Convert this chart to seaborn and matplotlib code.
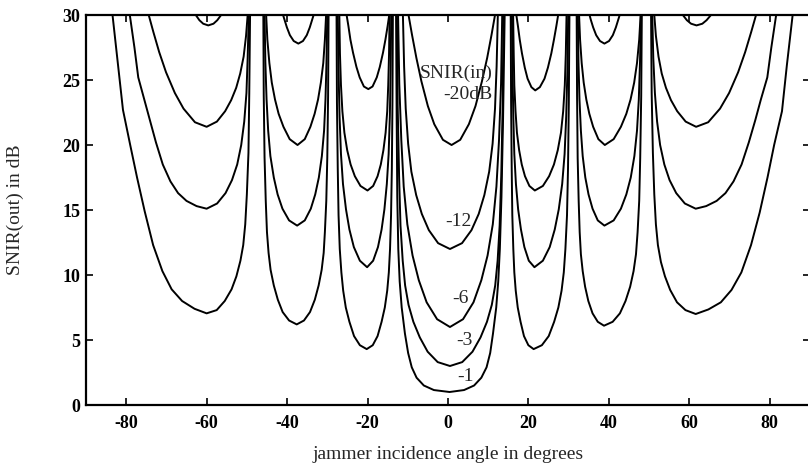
import numpy as np
import pandas as pd
from matplotlib import pyplot as plt
import seaborn as sns

# values (angle in degrees, SNIR(out) in dB)
# one row per lobe; the 60 / 45 points sit inside the clipped spikes above 30 dB
ang_m1 = [-90, -83.4, -82.0, -80.8, -79.0, -77.3, -75.4, -73.3, -71.0, -68.7, -66.1, -63.0, -60.0,
          -57.5, -55.5, -53.8, -52.6, -51.6, -50.9, -50.4, -50.0, -49.6, -49.4, -49.2, -47.2,
          -45.9, -45.8, -45.6, -45.3, -45.0, -44.6, -44.1, -43.3, -42.3, -41.1, -39.5, -37.6,
          -35.8, -34.3, -33.1, -32.15, -31.4, -30.9, -30.6, -30.25, -30.0, -29.8, -29.7, -28.7,
          -27.7, -27.6, -27.4, -27.2, -26.9, -26.5, -26.05, -25.4, -24.5, -23.35, -21.9, -20.2,
          -18.7, -17.5, -16.5, -15.7, -15.1, -14.7, -14.4, -14.15, -13.95, -13.8, -13.7, -13.1,
          -12.9, -12.75, -12.6, -12.35, -12.0, -11.5, -10.7, -9.9, -9.0, -7.8, -6.0, -3.5, 0.4,
          4.0, 6.5, 8.3, 9.6, 10.5, 11.2, 12.0, 12.5, 12.9, 13.3, 13.7, 14.1, 14.9,
          15.6, 15.7, 15.85, 16.0, 16.25, 16.5, 16.85, 17.35, 18.05, 18.9, 19.99, 21.3,
          23.35, 25.05, 26.4, 27.45, 28.25, 28.8, 29.2, 29.6, 29.85, 30.05, 30.2, 31.0,
          32.0, 32.1, 32.25, 32.5, 32.75, 33.05, 33.5, 34.1, 34.9, 35.95, 37.25, 38.8,
          40.95, 42.75, 44.15, 45.3, 46.15, 46.75, 47.15, 47.55, 47.8, 48.05, 48.2, 49.6,
          50.5, 50.65, 50.95, 51.3, 51.7, 52.2, 52.95, 53.95, 55.25, 56.95, 59.05, 61.6,
          64.75, 67.85, 70.5, 72.95, 75.35, 77.5, 79.45, 81.1, 83.05, 84.25, 85.7, 90]
db_m1 = [45, 30, 26.1, 22.7, 20.0, 17.5, 14.9, 12.3, 10.3, 8.9, 8.0, 7.4, 7.05,
         7.3, 8.0, 8.9, 9.9, 11.1, 12.3, 13.9, 16.2, 19.4, 24.0, 30, 60,
         30, 23.8, 19.05, 15.7, 13.3, 11.7, 10.4, 9.2, 8.1, 7.15, 6.5, 6.2,
         6.5, 7.15, 8.1, 9.2, 10.4, 11.7, 13.3, 15.7, 19.05, 23.8, 30, 60,
         30, 23.3, 18.2, 14.6, 12.0, 10.2, 8.8, 7.5, 6.4, 5.3, 4.6, 4.3,
         4.6, 5.3, 6.4, 7.5, 8.8, 10.2, 12.0, 14.6, 18.2, 23.3, 30, 60,
         30, 22, 16, 12, 9.5, 7.5, 5.5, 4.0, 2.9, 2.1, 1.5, 1.15, 1.0,
         1.15, 1.5, 2.1, 2.9, 4.0, 5.5, 7.5, 9.5, 12, 16, 22, 30, 60,
         30, 23.3, 18.2, 14.6, 12.0, 10.2, 8.8, 7.5, 6.4, 5.3, 4.6, 4.3,
         4.6, 5.3, 6.4, 7.5, 8.8, 10.2, 12.0, 14.6, 18.2, 23.3, 30, 60,
         30, 23.8, 19.0, 15.7, 13.3, 11.6, 10.3, 9.1, 8.0, 7.05, 6.4, 6.1,
         6.4, 7.05, 8.0, 9.1, 10.3, 11.6, 13.3, 15.7, 19.0, 23.8, 30, 60,
         30, 24.0, 19.4, 16.2, 13.9, 12.3, 11.0, 9.9, 8.85, 7.9, 7.3, 7.0,
         7.35, 7.9, 8.85, 10.2, 12.3, 14.8, 17.5, 20.0, 22.6, 26.1, 30, 45]

ang_m3 = [-90, -79.1, -77.95, -77.0, -75.5, -74.1, -72.6, -70.9, -69.0, -67.1, -65.0, -62.5, -60.0,
          -57.4, -55.3, -53.7, -52.4, -51.4, -50.65, -50.1, -49.8, -49.5, -47.2,
          -45.6, -45.4, -45.1, -44.7, -44.15, -43.3, -42.35, -41.15, -39.5, -37.5,
          -35.6, -34.1, -33.0, -32.1, -31.35, -30.8, -30.45, -30.2, -30.0, -28.7,
          -27.4, -27.2, -26.95, -26.6, -26.1, -25.35, -24.5, -23.4, -21.9, -20.1,
          -18.6, -17.4, -16.5, -15.8, -15.2, -14.75, -14.45, -14.25, -14.1, -13.1,
          -12.7, -12.5, -12.15, -11.8, -11.25, -10.65, -9.8, -8.6, -7.0, -5.05, -2.55, 0.5,
          3.55, 6.1, 8.1, 9.7, 10.9, 11.75, 12.35, 12.85, 13.25, 13.6, 13.8, 14.9,
          15.9, 16.05, 16.25, 16.5, 16.9, 17.45, 18.15, 19.0, 20.1, 21.5,
          23.6, 25.3, 26.55, 27.55, 28.4, 29.0, 29.4, 29.7, 29.9, 31.0,
          32.3, 32.45, 32.7, 33.05, 33.5, 34.15, 34.95, 35.95, 37.25, 38.9,
          41.2, 43.0, 44.35, 45.45, 46.35, 47.0, 47.45, 47.75, 48.0, 49.6,
          50.8, 51.05, 51.45, 52.0, 52.75, 53.8, 55.1, 56.75, 58.9, 61.6,
          64.2, 66.8, 69.0, 71.0, 73.0, 74.8, 76.4, 77.8, 79.4, 80.4, 81.6, 90]
db_m3 = [45, 30, 27.5, 25.2, 23.5, 21.9, 20.2, 18.5, 17.2, 16.3, 15.7, 15.3, 15.1,
         15.5, 16.3, 17.3, 18.5, 20.0, 21.8, 24.0, 26.7, 30, 60,
         30, 26.4, 23.5, 21.1, 19.15, 17.5, 16.2, 15.1, 14.2, 13.8,
         14.2, 15.1, 16.2, 17.5, 19.15, 21.1, 23.5, 26.4, 30, 60,
         30, 25.7, 22.2, 19.3, 17.0, 15.05, 13.5, 12.15, 11.1, 10.6,
         11.1, 12.15, 13.5, 15.05, 17.0, 19.3, 22.2, 25.7, 30, 60,
         30, 23.0, 17.6, 13.8, 11.1, 9.2, 7.7, 6.4, 5.2, 4.1, 3.3, 3.0,
         3.3, 4.1, 5.2, 6.4, 7.7, 9.2, 11.1, 13.8, 17.6, 23.0, 30, 60,
         30, 25.7, 22.2, 19.3, 17.0, 15.05, 13.5, 12.15, 11.1, 10.6,
         11.1, 12.15, 13.5, 15.05, 17.0, 19.3, 22.2, 25.7, 30, 60,
         30, 26.4, 23.5, 21.1, 19.15, 17.5, 16.2, 15.1, 14.2, 13.8,
         14.2, 15.1, 16.2, 17.5, 19.15, 21.1, 23.5, 26.4, 30, 60,
         30, 26.7, 24.0, 21.8, 20.0, 18.5, 17.3, 16.3, 15.5, 15.1,
         15.3, 15.7, 16.3, 17.2, 18.5, 20.2, 21.9, 23.5, 25.2, 27.5, 30, 45]

ang_m6 = [-90, -74.4, -73.25, -71.8, -70.1, -67.9, -65.75, -62.9, -60.0,
          -57.45, -55.4, -53.9, -52.65, -51.65, -50.8, -50.2, -49.8, -47.2,
          -45.2, -44.9, -44.4, -43.8, -43.0, -42.1, -40.9, -39.35, -37.4,
          -35.6, -34.2, -33.15, -32.3, -31.6, -31.0, -30.6, -30.3, -28.7,
          -27.0, -26.85, -26.6, -26.25, -25.75, -25.05, -24.2, -23.15, -21.75, -20.0,
          -18.6, -17.5, -16.7, -16.05, -15.5, -15.1, -14.85, -14.65, -14.5, -13.1,
          -12.4, -12.1, -11.6, -11.0, -10.1, -8.8, -7.25, -5.3, -2.7, 0.5,
          3.75, 6.35, 8.3, 9.85, 11.15, 12.05, 12.7, 13.2, 13.5, 14.9,
          16.2, 16.35, 16.5, 16.8, 17.15, 17.7, 18.35, 19.15, 20.25, 21.6,
          23.6, 25.15, 26.35, 27.3, 28.1, 28.65, 29.05, 29.3, 29.5, 31.0,
          32.6, 32.85, 33.25, 33.75, 34.4, 35.15, 36.1, 37.4, 39.0,
          41.2, 43.0, 44.35, 45.4, 46.3, 47.0, 47.55, 47.9, 49.6,
          51.3, 51.7, 52.35, 53.15, 54.2, 55.45, 57.0, 59.1, 61.7,
          64.7, 67.65, 69.9, 72.15, 73.9, 75.4, 76.6, 90]
db_m6 = [45, 30, 28.7, 27.15, 25.6, 24.0, 22.8, 21.75, 21.4,
         21.8, 22.6, 23.45, 24.4, 25.5, 26.8, 28.4, 30, 60,
         30, 28.1, 26.3, 24.8, 23.5, 22.4, 21.4, 20.45, 20.0,
         20.45, 21.4, 22.4, 23.5, 24.8, 26.3, 28.1, 30, 60,
         30, 27.0, 24.6, 22.6, 20.95, 19.6, 18.5, 17.6, 16.85, 16.5,
         16.85, 17.6, 18.5, 19.6, 20.95, 22.6, 24.6, 27.0, 30, 60,
         30, 24.7, 20.4, 16.8, 13.9, 11.5, 9.6, 7.9, 6.6, 6.0,
         6.6, 7.9, 9.6, 11.5, 13.9, 16.8, 20.4, 24.7, 30, 60,
         30, 27.0, 24.6, 22.6, 20.95, 19.6, 18.5, 17.6, 16.85, 16.5,
         16.85, 17.6, 18.5, 19.6, 20.95, 22.6, 24.6, 27.0, 30, 60,
         30, 28.1, 26.3, 24.8, 23.5, 22.4, 21.4, 20.45, 20.0,
         20.45, 21.4, 22.4, 23.5, 24.8, 26.3, 28.1, 30, 60,
         30, 28.4, 26.8, 25.5, 24.4, 23.45, 22.6, 21.8, 21.4,
         21.75, 22.8, 24.0, 25.6, 27.15, 28.7, 30, 45]

ang_m12 = [-90, -62.7, -61.8, -60.85, -59.6, -58.3, -57.35, -56.4, -47.2,
           -41.0, -40.6, -40.05, -39.3, -38.35, -37.2, -36.05, -35.1, -34.35, -33.8, -33.4, -28.7,
           -25.2, -24.75, -24.25, -23.6, -22.75, -21.95, -20.9, -19.8,
           -18.75, -17.7, -16.95, -16.15, -15.55, -15.0, -14.6, -13.1,
           -11.2, -10.9, -10.5, -9.9, -9.1, -7.9, -6.5, -4.75, -2.45, 0.5,
           3.5, 5.85, 7.65, 9.05, 10.25, 11.1, 11.7, 12.1, 12.4, 14.9,
           17.0, 17.4, 17.85, 18.4, 19.1, 19.8, 20.75, 21.7,
           22.85, 24.0, 24.85, 25.7, 26.35, 26.95, 27.4, 31.0,
           35.2, 35.55, 36.1, 36.85, 37.8, 38.9, 40.05, 41.0, 41.75, 42.3, 42.7, 49.6,
           58.4, 59.4, 60.45, 61.8, 63.25, 64.3, 65.4, 90]
db_m12 = [60, 30, 29.6, 29.33, 29.2, 29.33, 29.6, 30, 60,
          30, 29.6, 29.05, 28.45, 28.0, 27.8, 28.0, 28.45, 29.05, 29.6, 30, 60,
          30, 29.15, 28.1, 27.1, 26.0, 25.2, 24.5, 24.3,
          24.5, 25.2, 26.0, 27.1, 28.1, 29.15, 30, 60,
          30, 26.05, 22.8, 20.1, 17.95, 16.15, 14.7, 13.45, 12.45, 12.0,
          12.45, 13.45, 14.7, 16.15, 17.95, 20.1, 22.8, 26.05, 30, 60,
          30, 29.15, 28.1, 27.05, 25.95, 25.1, 24.45, 24.2,
          24.45, 25.1, 25.95, 27.05, 28.1, 29.15, 30, 60,
          30, 29.6, 29.05, 28.45, 28.0, 27.8, 28.0, 28.45, 29.05, 29.6, 30, 60,
          30, 29.6, 29.33, 29.2, 29.33, 29.6, 30, 60]

ang_m20 = [-13.1, -9.8, -8.95, -7.85, -6.6, -5.0, -3.4, -1.25, 0.9,
           3.05, 5.2, 6.85, 8.45, 9.75, 10.85, 11.7, 14.9]
db_m20 = [60, 30, 28.5, 26.7, 24.9, 23.0, 21.6, 20.4, 20.0,
          20.4, 21.6, 23.0, 24.9, 26.7, 28.5, 30, 60]

snir_in = ["-1", "-3", "-6", "-12", "-20"]
curve_ang = [ang_m1, ang_m3, ang_m6, ang_m12, ang_m20]
curve_db = [db_m1, db_m3, db_m6, db_m12, db_m20]

x_ticks = [-80, -60, -40, -20, 0, 20, 40, 60, 80]
y_ticks = [0, 5, 10, 15, 20, 25, 30]

# curve labels: text, angle, dB
labels = [("SNIR(in)", -6.9, 25.5), ("-20dB", -1.2, 23.9), ("-12", -0.7, 14.1),
          ("-6", 1.0, 8.2), ("-3", 2.0, 5.0), ("-1", 2.2, 2.2)]

rows = []
for name, a, d in zip(snir_in, curve_ang, curve_db):
    assert len(a) == len(d), name
    for i, (x, y) in enumerate(zip(a, d)):
        rows.append((name, i, x, y))
df = pd.DataFrame(rows, columns=["snir_in", "idx", "angle", "snir_out"])

sns.set_style("ticks")
plt.rcParams['font.family'] = ['Liberation Serif', 'DejaVu Serif']
plt.rcParams['axes.unicode_minus'] = False

fig = plt.figure(figsize=(8.08, 4.66), dpi=100)
ax = fig.add_axes([0.1064, 0.1309, 0.896, 0.8369])

sns.lineplot(data=df, x="angle", y="snir_out", units="snir_in", estimator=None,
             sort=False, color="black", linewidth=1.4, ax=ax, legend=False)

ax.set_xlim(-90, 90)
ax.set_ylim(0, 30)
ax.set_xticks(x_ticks)
ax.set_xticklabels([str(t) for t in x_ticks])
ax.set_yticks(y_ticks)
ax.set_yticklabels([str(t) for t in y_ticks])
ax.tick_params(direction="in", top=True, right=True, length=5, width=1.2,
               labelsize=13, colors="black")
ax.tick_params(axis="x", pad=7)
ax.tick_params(axis="y", pad=4)
for lab in ax.get_xticklabels() + ax.get_yticklabels():
    lab.set_fontweight("bold")
for sp in ax.spines.values():
    sp.set_linewidth(1.6)
    sp.set_color("black")

ax.set_xlabel("jammer incidence angle in degrees", fontsize=14)
ax.set_ylabel("SNIR(out) in dB", fontsize=14)
ax.xaxis.set_label_coords(0.5, -0.105)
ax.yaxis.set_label_coords(-0.086, 0.5)

for txt, x, y in labels:
    ax.text(x, y, txt, fontsize=14, ha="left", va="center")

fig.savefig("out.png", dpi=100)
